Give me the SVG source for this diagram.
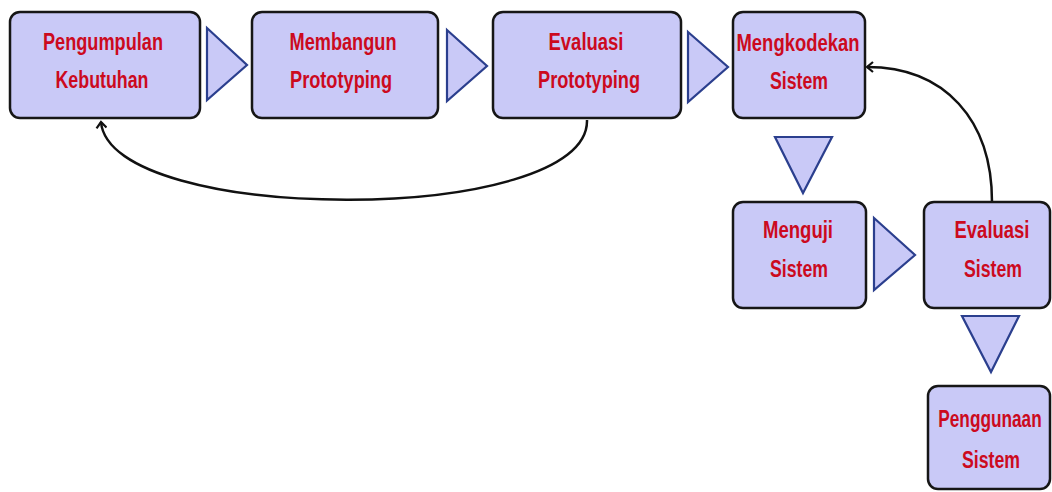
<svg xmlns="http://www.w3.org/2000/svg" width="1052" height="492" viewBox="0 0 1052 492">
<defs>
<style>
.box{fill:#c9c9f7;stroke:#161616;stroke-width:2.5}
.tri{fill:#c9c9f7;stroke:#2b3f8e;stroke-width:2.2;stroke-linejoin:miter}
.t{font-family:"Liberation Sans Narrow","Liberation Sans",Arial,sans-serif;font-weight:bold;font-size:23px;fill:#cc0a1e;text-anchor:middle}
.c{fill:none;stroke:#111;stroke-width:2.5}
</style>
<marker id="ah" markerWidth="12" markerHeight="12" refX="9" refY="6" orient="auto" markerUnits="userSpaceOnUse">
<path d="M3,1 L9,6 L3,11" fill="none" stroke="#111" stroke-width="2.2"/>
</marker>
</defs>
<g id="connectors">
<path class="c" d="M587,120 C590,226 110,226 101,122" marker-end="url(#ah)"/>
<path class="c" d="M992,202 C992,120 945,67 867,67" marker-end="url(#ah)"/>
<polygon class="tri" points="207,28 247,65 207,100"/>
<polygon class="tri" points="447,30 487,66 447,101"/>
<polygon class="tri" points="688,32 728,67 688,102"/>
<polygon class="tri" points="775,137 832,137 803,193"/>
<polygon class="tri" points="874,218 915,255 874,290"/>
<polygon class="tri" points="962,316 1019,316 991,372"/>
</g>
<g id="n1">
<rect class="box" x="10" y="12" width="190" height="106" rx="10"/>
<text class="t" x="103" y="50" textLength="120" lengthAdjust="spacingAndGlyphs">Pengumpulan</text>
<text class="t" x="102" y="88" textLength="93" lengthAdjust="spacingAndGlyphs">Kebutuhan</text>
</g>
<g id="n2">
<rect class="box" x="252" y="12" width="186" height="106" rx="10"/>
<text class="t" x="343" y="50" textLength="107" lengthAdjust="spacingAndGlyphs">Membangun</text>
<text class="t" x="341" y="88" textLength="102" lengthAdjust="spacingAndGlyphs">Prototyping</text>
</g>
<g id="n3">
<rect class="box" x="493" y="12" width="188" height="106" rx="10"/>
<text class="t" x="586" y="50" textLength="75" lengthAdjust="spacingAndGlyphs">Evaluasi</text>
<text class="t" x="589" y="88" textLength="102" lengthAdjust="spacingAndGlyphs">Prototyping</text>
</g>
<g id="n4">
<rect class="box" x="733" y="12" width="132" height="106" rx="10"/>
<text class="t" x="798" y="51" textLength="123" lengthAdjust="spacingAndGlyphs">Mengkodekan</text>
<text class="t" x="799" y="89" textLength="58" lengthAdjust="spacingAndGlyphs">Sistem</text>
</g>
<g id="n5">
<rect class="box" x="733" y="202" width="133" height="106" rx="10"/>
<text class="t" x="798" y="238" textLength="70" lengthAdjust="spacingAndGlyphs">Menguji</text>
<text class="t" x="799" y="277" textLength="58" lengthAdjust="spacingAndGlyphs">Sistem</text>
</g>
<g id="n6">
<rect class="box" x="924" y="202" width="126" height="106" rx="10"/>
<text class="t" x="992" y="238" textLength="75" lengthAdjust="spacingAndGlyphs">Evaluasi</text>
<text class="t" x="993" y="277" textLength="58" lengthAdjust="spacingAndGlyphs">Sistem</text>
</g>
<g id="n7">
<rect class="box" x="928" y="386" width="122" height="103" rx="10"/>
<text class="t" transform="translate(990,427) scale(0.75,1)" x="0" y="0">Penggunaan</text>
<text class="t" x="991" y="468" textLength="58" lengthAdjust="spacingAndGlyphs">Sistem</text>
</g>
</svg>
